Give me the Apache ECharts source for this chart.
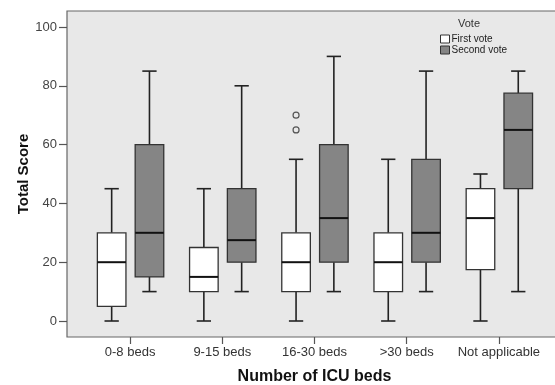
<!DOCTYPE html>
<html><head><meta charset="utf-8">
<script src="https://cdn.jsdelivr.net/npm/echarts@6/dist/echarts.min.js"></script>
<style>html,body{margin:0;padding:0;background:#fff}#c{width:555px;height:385px}</style>
</head><body><div id="c"></div>
<script>
const categories = ['0-8 beds', '9-15 beds', '16-30 beds', '>30 beds', 'Not applicable'];
// [min, Q1, median, Q3, max]
const firstVote = [[0, 5, 20, 30, 45], [0, 10, 15, 25, 45], [0, 10, 20, 30, 55], [0, 10, 20, 30, 55], [0, 17.5, 35, 45, 50]];
const secondVote = [[10, 15, 30, 60, 85], [10, 20, 27.5, 45, 80], [10, 20, 35, 60, 90], [10, 20, 30, 55, 85], [10, 45, 65, 77.5, 85]];
// [category index, value]
const firstVoteOutliers = [[2, 65], [2, 70]];
const yTicks = [0, 20, 40, 60, 80, 100];

const FONT = '"Liberation Sans", Arial, sans-serif';
const LINE = '#222';

function boxRender(offsetFrac, fill) {
  return function (params, api) {
    const cat = api.value(0);
    const band = api.size([1, 0])[0];
    const cx = api.coord([cat, 0])[0] + offsetFrac * band;
    const w = band * 0.31, cw = band * 0.155;
    const y = i => api.coord([cat, api.value(i)])[1];
    const yMin = y(1), yQ1 = y(2), yMed = y(3), yQ3 = y(4), yMax = y(5);
    const ls = { stroke: LINE, lineWidth: 1.6 };
    return {
      type: 'group',
      children: [
        { type: 'line', shape: { x1: cx, y1: yMin, x2: cx, y2: yQ1 }, style: ls },
        { type: 'line', shape: { x1: cx, y1: yQ3, x2: cx, y2: yMax }, style: ls },
        { type: 'line', shape: { x1: cx - cw / 2, y1: yMin, x2: cx + cw / 2, y2: yMin }, style: ls },
        { type: 'line', shape: { x1: cx - cw / 2, y1: yMax, x2: cx + cw / 2, y2: yMax }, style: ls },
        { type: 'rect', shape: { x: cx - w / 2, y: yQ3, width: w, height: yQ1 - yQ3 }, style: { fill: fill, stroke: '#333', lineWidth: 1.3 } },
        { type: 'line', shape: { x1: cx - w / 2, y1: yMed, x2: cx + w / 2, y2: yMed }, style: { stroke: '#111', lineWidth: 2 } }
      ]
    };
  };
}
function outlierRender(offsetFrac) {
  return function (params, api) {
    const cat = api.value(0);
    const band = api.size([1, 0])[0];
    const p = api.coord([cat, api.value(1)]);
    return { type: 'circle', shape: { cx: p[0] + offsetFrac * band, cy: p[1], r: 3 }, style: { fill: 'none', stroke: '#555', lineWidth: 1.2 } };
  };
}

const chart = echarts.init(document.getElementById('c'), null, { renderer: 'canvas' });
chart.setOption({
  animation: false,
  backgroundColor: '#fff',
  textStyle: { fontFamily: FONT },
  title: { text: 'Vote', left: 453, top: 13, textStyle: { fontSize: 11, fontWeight: 'normal', color: '#333', fontFamily: FONT } },
  legend: {
    orient: 'vertical', left: 440, top: 34, padding: 0, itemGap: 1,
    itemWidth: 9, itemHeight: 8,
    textStyle: { fontSize: 10, color: '#222', fontFamily: FONT, lineHeight: 10, padding: [0, 0, 0, -3] },
    data: [
      { name: 'First vote', icon: 'rect', itemStyle: { color: '#fff', borderColor: '#333', borderWidth: 1 } },
      { name: 'Second vote', icon: 'rect', itemStyle: { color: '#858585', borderColor: '#333', borderWidth: 1 } }
    ]
  },
  grid: [
    { left: 67, right: -3, top: 11, bottom: 48, show: true, backgroundColor: '#e8e8e8', borderColor: '#666', borderWidth: 1.2, outerBoundsMode: 'none' },
    { left: 84, right: 10, top: 27, bottom: 64, outerBoundsMode: 'none' },
    { left: 84, right: 10, top: 27, bottom: 48, outerBoundsMode: 'none' }
  ],
  xAxis: [
    { gridIndex: 0, type: 'value', show: false },
    { gridIndex: 1, type: 'category', data: categories, show: false },
    {
      gridIndex: 2, type: 'category', data: categories,
      axisLine: { show: false },
      axisTick: { show: true, alignWithLabel: true, interval: 0, length: 7, lineStyle: { color: '#555', width: 1.2 } },
      axisLabel: { color: '#333', fontSize: 13, margin: 9, interval: 0, fontFamily: FONT },
      name: 'Number of ICU beds', nameLocation: 'middle', nameGap: 32, nameMoveOverlap: false,
      nameTextStyle: { fontSize: 16, fontWeight: 'bold', color: '#111', fontFamily: FONT }
    }
  ],
  yAxis: [
    { gridIndex: 0, type: 'value', show: false },
    {
      gridIndex: 1, type: 'value', min: 0, max: 100, interval: 20, offset: 17,
      axisLine: { show: false },
      axisTick: { show: true, length: 8, lineStyle: { color: '#555', width: 1.2 } },
      axisLabel: { color: '#444', fontSize: 13, margin: 10, fontFamily: FONT, formatter: v => yTicks.includes(v) ? String(v) : '' },
      splitLine: { show: false },
      name: 'Total Score', nameLocation: 'middle', nameGap: 36, nameRotate: 90, nameMoveOverlap: false,
      nameTextStyle: { fontSize: 15, fontWeight: 'bold', color: '#111', fontFamily: FONT }
    },
    { gridIndex: 2, type: 'value', show: false }
  ],
  series: [
    {
      name: 'First vote', type: 'custom', xAxisIndex: 1, yAxisIndex: 1,
      itemStyle: { color: '#fff' },
      renderItem: boxRender(-0.2, '#fff'),
      encode: { x: 0, y: [1, 2, 3, 4, 5] },
      data: firstVote.map((d, i) => [i].concat(d))
    },
    {
      name: 'Second vote', type: 'custom', xAxisIndex: 1, yAxisIndex: 1,
      itemStyle: { color: '#858585' },
      renderItem: boxRender(0.21, '#858585'),
      encode: { x: 0, y: [1, 2, 3, 4, 5] },
      data: secondVote.map((d, i) => [i].concat(d))
    },
    {
      name: 'First vote outliers', type: 'custom', xAxisIndex: 1, yAxisIndex: 1,
      renderItem: outlierRender(-0.2),
      encode: { x: 0, y: 1 },
      data: firstVoteOutliers
    }
  ]
});
</script></body></html>
